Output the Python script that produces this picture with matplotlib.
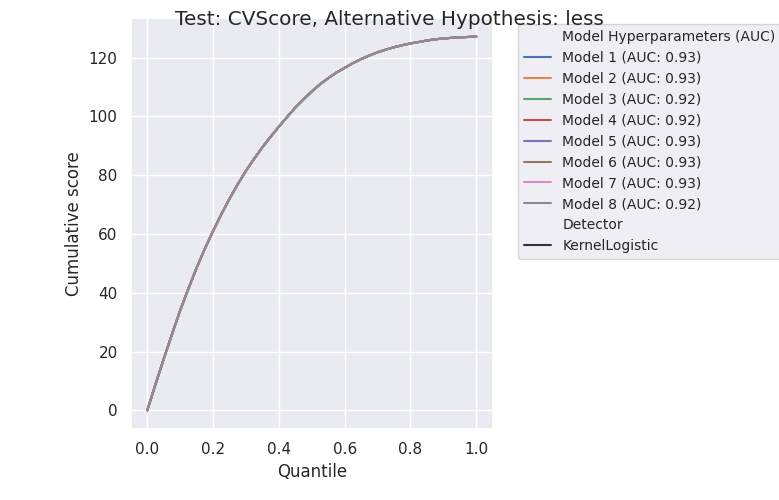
import numpy as np
import pandas as pd
import seaborn as sns
import matplotlib
matplotlib.use("Agg")
import matplotlib.pyplot as plt

sns.set_theme()

# quantile grid and cumulative score (all models overlap)
quantile = [0.0, 0.025, 0.05, 0.075, 0.1, 0.125, 0.15, 0.175, 0.2, 0.225,
            0.25, 0.275, 0.3, 0.325, 0.35, 0.375, 0.4, 0.425, 0.45, 0.475,
            0.5, 0.525, 0.55, 0.575, 0.6, 0.625, 0.65, 0.675, 0.7, 0.725,
            0.75, 0.775, 0.8, 0.825, 0.85, 0.875, 0.9, 0.925, 0.95, 0.975, 1.0]
score = [0.0, 8.9, 17.5, 25.9, 34.0, 41.4, 48.5, 55.0, 61.0, 66.7,
         72.0, 76.9, 81.5, 85.6, 89.5, 93.1, 96.5, 99.8, 103.0, 105.8,
         108.5, 110.9, 113.0, 114.9, 116.5, 118.1, 119.5, 120.7, 121.8, 122.7,
         123.5, 124.2, 124.8, 125.3, 125.8, 126.2, 126.5, 126.7, 126.9, 127.0, 127.1]

models = ["Model 1 (AUC: 0.93)", "Model 2 (AUC: 0.93)", "Model 3 (AUC: 0.92)",
          "Model 4 (AUC: 0.92)", "Model 5 (AUC: 0.93)", "Model 6 (AUC: 0.93)",
          "Model 7 (AUC: 0.93)", "Model 8 (AUC: 0.92)"]
detector = "KernelLogistic"

rows = []
for m in models:
    for q, s in zip(quantile, score):
        rows.append({"Quantile": q, "Cumulative score": s,
                     "Model Hyperparameters (AUC)": m, "Detector": detector})
df = pd.DataFrame(rows)

fig = plt.figure(figsize=(7.79, 5), dpi=100)
ax = fig.add_axes([0.168, 0.142, 0.4645, 0.822])
sns.lineplot(data=df, x="Quantile", y="Cumulative score",
             hue="Model Hyperparameters (AUC)", style="Detector", ax=ax)

handles, labels = ax.get_legend_handles_labels()
ax.legend(handles, labels, loc="upper left", bbox_to_anchor=(1.07, 0.985),
          borderaxespad=0, fontsize=10)
ax.set_xlabel("Quantile")
ax.set_ylabel("Cumulative score")
fig.suptitle("Test: CVScore, Alternative Hypothesis: less")

fig.savefig("out.png", dpi=100)
